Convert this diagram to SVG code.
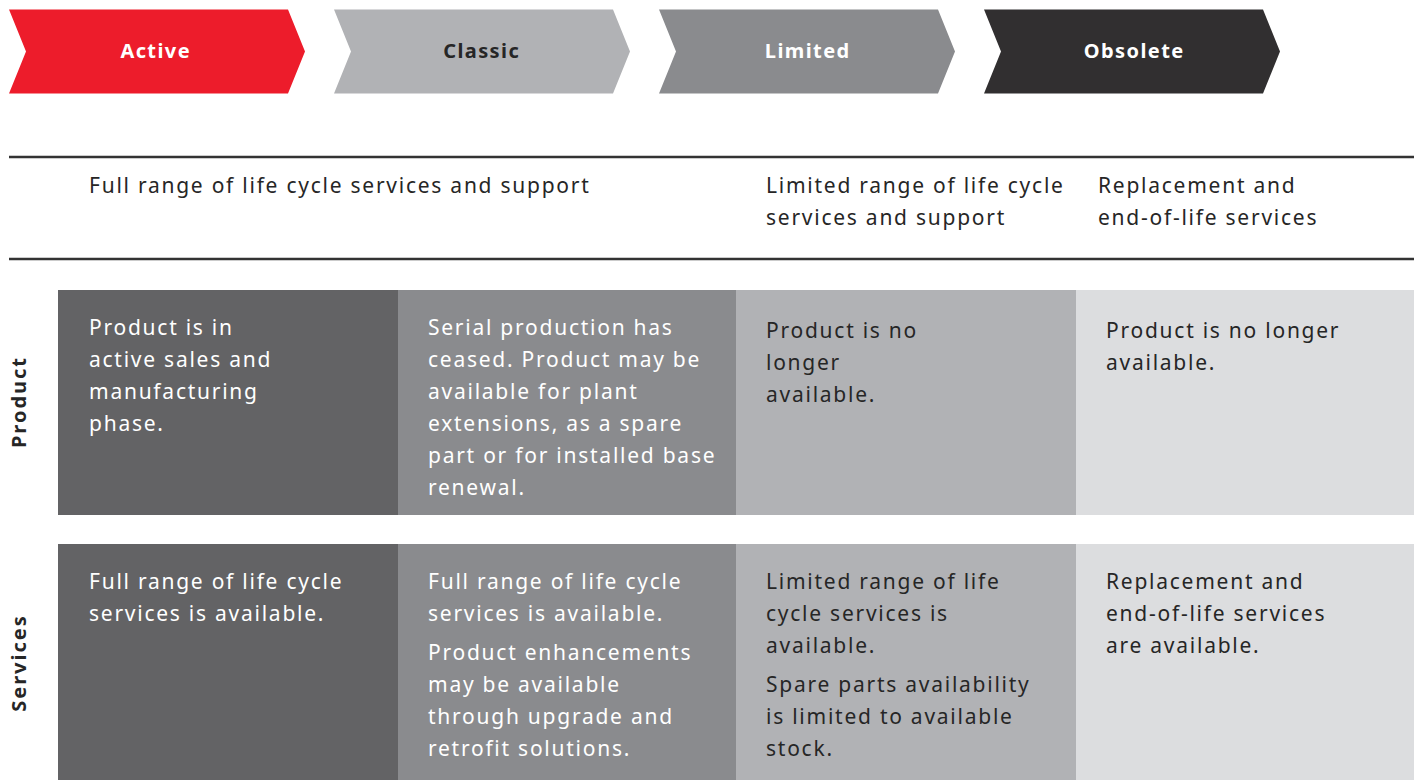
<svg xmlns="http://www.w3.org/2000/svg" width="1418" height="780" viewBox="0 0 1418 780">
<style>
.lbl{font-family:"Noto Sans","Open Sans",sans-serif;font-size:20px;font-weight:700;text-anchor:middle;letter-spacing:1.4px}
.t{font-family:"Noto Sans","Open Sans",sans-serif;font-size:21px;letter-spacing:1.75px}
.w{fill:#ffffff}
.d{fill:#262626}
.row{font-family:"Noto Sans","Open Sans",sans-serif;font-size:20px;font-weight:700;fill:#262626;text-anchor:middle;letter-spacing:2px}
.rule{stroke:#333333;stroke-width:2.5}
</style>
<rect width="1418" height="780" fill="#ffffff"/>
<g id="chevron-active">
<polygon points="9,9.5 288,9.5 305,51.5 288,93.5 9,93.5 26,51.5" fill="#ed1c2b"/>
<text class="lbl w" x="155.7" y="58">Active</text>
</g>
<g id="chevron-classic">
<polygon points="334,9.5 613,9.5 630,51.5 613,93.5 334,93.5 351,51.5" fill="#b1b2b5"/>
<text class="lbl d" x="481.7" y="58">Classic</text>
</g>
<g id="chevron-limited">
<polygon points="659,9.5 938,9.5 955,51.5 938,93.5 659,93.5 676,51.5" fill="#8a8b8e"/>
<text class="lbl w" x="807.7" y="58">Limited</text>
</g>
<g id="chevron-obsolete">
<polygon points="984,9.5 1263,9.5 1280,51.5 1263,93.5 984,93.5 1001,51.5" fill="#312f30"/>
<text class="lbl w" x="1134.2" y="58">Obsolete</text>
</g>
<g id="header">
<line class="rule" x1="9" y1="157" x2="1414" y2="157"/>
<line class="rule" x1="9" y1="259" x2="1414" y2="259"/>
<text class="t d" x="89" y="193">Full range of life cycle services and support</text>
<text class="t d" x="766" y="193">Limited range of life cycle</text>
<text class="t d" x="766" y="225">services and support</text>
<text class="t d" x="1098" y="193">Replacement and</text>
<text class="t d" x="1098" y="225">end-of-life services</text>
</g>
<g id="row-labels">
<text class="row" transform="translate(26,402) rotate(-90)">Product</text>
<text class="row" transform="translate(26,663) rotate(-90)">Services</text>
</g>
<g id="product-active">
<rect x="58" y="290" width="340" height="225" fill="#636365"/>
<text class="t w" x="89" y="335">Product is in</text>
<text class="t w" x="89" y="367">active sales and</text>
<text class="t w" x="89" y="399">manufacturing</text>
<text class="t w" x="89" y="431">phase.</text>
</g>
<g id="product-classic">
<rect x="398" y="290" width="338" height="225" fill="#8a8b8e"/>
<text class="t w" x="428" y="335">Serial production has</text>
<text class="t w" x="428" y="367">ceased. Product may be</text>
<text class="t w" x="428" y="399">available for plant</text>
<text class="t w" x="428" y="431">extensions, as a spare</text>
<text class="t w" x="428" y="463">part or for installed base</text>
<text class="t w" x="428" y="495">renewal.</text>
</g>
<g id="product-limited">
<rect x="736" y="290" width="340" height="225" fill="#b1b2b5"/>
<text class="t d" x="766" y="338">Product is no</text>
<text class="t d" x="766" y="370">longer</text>
<text class="t d" x="766" y="402">available.</text>
</g>
<g id="product-obsolete">
<rect x="1076" y="290" width="338" height="225" fill="#dcdddf"/>
<text class="t d" x="1106" y="338">Product is no longer</text>
<text class="t d" x="1106" y="370">available.</text>
</g>
<g id="services-active">
<rect x="58" y="544" width="340" height="236" fill="#636365"/>
<text class="t w" x="89" y="589">Full range of life cycle</text>
<text class="t w" x="89" y="621">services is available.</text>
</g>
<g id="services-classic">
<rect x="398" y="544" width="338" height="236" fill="#8a8b8e"/>
<text class="t w" x="428" y="589">Full range of life cycle</text>
<text class="t w" x="428" y="621">services is available.</text>
<text class="t w" x="428" y="660">Product enhancements</text>
<text class="t w" x="428" y="692">may be available</text>
<text class="t w" x="428" y="724">through upgrade and</text>
<text class="t w" x="428" y="756">retrofit solutions.</text>
</g>
<g id="services-limited">
<rect x="736" y="544" width="340" height="236" fill="#b1b2b5"/>
<text class="t d" x="766" y="589">Limited range of life</text>
<text class="t d" x="766" y="621">cycle services is</text>
<text class="t d" x="766" y="653">available.</text>
<text class="t d" x="766" y="692">Spare parts availability</text>
<text class="t d" x="766" y="724">is limited to available</text>
<text class="t d" x="766" y="756">stock.</text>
</g>
<g id="services-obsolete">
<rect x="1076" y="544" width="338" height="236" fill="#dcdddf"/>
<text class="t d" x="1106" y="589">Replacement and</text>
<text class="t d" x="1106" y="621">end-of-life services</text>
<text class="t d" x="1106" y="653">are available.</text>
</g>
<g id="connectors"/>
</svg>
